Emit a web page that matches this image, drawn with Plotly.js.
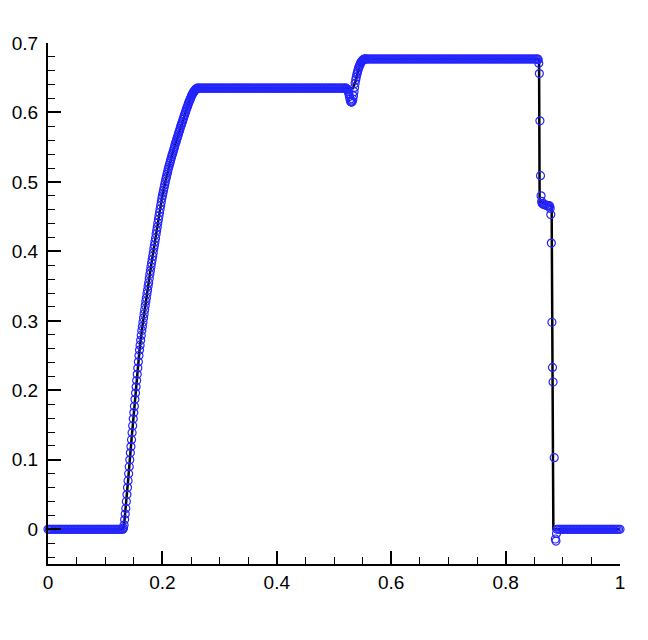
<!DOCTYPE html>
<html>
<head>
<meta charset="utf-8">
<script src="https://cdn.plot.ly/plotly-3.0.1.min.js"></script>
<style>
  html, body { margin: 0; padding: 0; background: #fff; }
  #graph { width: 648px; height: 640px; }
</style>
</head>
<body>
<div id="graph"></div>
<script>
// numerical solution (open circles)
const xLeft = [
  0, 0.0025, 0.005, 0.0075, 0.01, 0.0125, 0.015, 0.0175, 0.02, 0.0225,
  0.025, 0.0275, 0.03, 0.0325, 0.035, 0.0375, 0.04, 0.0425, 0.045, 0.0475,
  0.05, 0.0525, 0.055, 0.0575, 0.06, 0.0625, 0.065, 0.0675, 0.07, 0.0725,
  0.075, 0.0775, 0.08, 0.0825, 0.085, 0.0875, 0.09, 0.0925, 0.095, 0.0975,
  0.1, 0.1025, 0.105, 0.1075, 0.11, 0.1125, 0.115, 0.1175, 0.12, 0.1225,
  0.125, 0.1275
];
const uLeft = [
  0, 0, 0, 0, 0, 0, 0, 0, 0, 0,
  0, 0, 0, 0, 0, 0, 0, 0, 0, 0,
  0, 0, 0, 0, 0, 0, 0, 0, 0, 0,
  0, 0, 0, 0, 0, 0, 0, 0, 0, 0,
  0, 0, 0, 0, 0, 0, 0, 0, 0, 0,
  0, 0
];

const xFan = [
  0.130, 0.131, 0.132, 0.133, 0.134, 0.135, 0.136, 0.137, 0.138, 0.139,
  0.140, 0.141, 0.142, 0.143, 0.144, 0.145, 0.146, 0.147, 0.148, 0.149,
  0.150, 0.151, 0.152, 0.153, 0.154, 0.155, 0.156, 0.157, 0.158, 0.159,
  0.160, 0.161, 0.162, 0.163, 0.164, 0.165, 0.166, 0.167, 0.168, 0.169,
  0.170, 0.171, 0.172, 0.173, 0.174, 0.175, 0.176, 0.177, 0.178, 0.179,
  0.180, 0.181, 0.182, 0.183, 0.184, 0.185, 0.186, 0.187, 0.188, 0.189,
  0.190, 0.191, 0.192, 0.193, 0.194, 0.195, 0.196, 0.197, 0.198, 0.199,
  0.200, 0.201, 0.202, 0.203, 0.204, 0.205, 0.206, 0.207, 0.208, 0.209,
  0.210, 0.211, 0.212, 0.213, 0.214, 0.215, 0.216, 0.217, 0.218, 0.219,
  0.220, 0.221, 0.222, 0.223, 0.224, 0.225, 0.226, 0.227, 0.228, 0.229,
  0.230, 0.231, 0.232, 0.233, 0.234, 0.235, 0.236, 0.237, 0.238, 0.239,
  0.240, 0.241, 0.242, 0.243, 0.244, 0.245, 0.246, 0.247, 0.248, 0.249,
  0.250, 0.251, 0.252, 0.253, 0.254, 0.255, 0.256, 0.257, 0.258, 0.259,
  0.260, 0.261
];
const uFan = [
  0.000, 0.000, 0.002, 0.006, 0.014, 0.022, 0.030, 0.040, 0.050, 0.060,
  0.070, 0.080, 0.090, 0.100, 0.110, 0.119, 0.129, 0.139, 0.149, 0.159,
  0.168, 0.177, 0.187, 0.196, 0.205, 0.214, 0.223, 0.232, 0.241, 0.250,
  0.258, 0.265, 0.272, 0.279, 0.286, 0.292, 0.298, 0.304, 0.310, 0.316,
  0.322, 0.328, 0.333, 0.339, 0.344, 0.350, 0.355, 0.361, 0.367, 0.372,
  0.378, 0.383, 0.388, 0.393, 0.398, 0.404, 0.409, 0.414, 0.419, 0.425,
  0.430, 0.435, 0.441, 0.446, 0.451, 0.456, 0.461, 0.466, 0.471, 0.476,
  0.480, 0.484, 0.488, 0.492, 0.496, 0.500, 0.504, 0.507, 0.511, 0.514,
  0.518, 0.521, 0.524, 0.527, 0.530, 0.533, 0.536, 0.539, 0.541, 0.544,
  0.547, 0.550, 0.553, 0.556, 0.558, 0.561, 0.564, 0.566, 0.569, 0.572,
  0.574, 0.577, 0.580, 0.582, 0.585, 0.587, 0.590, 0.592, 0.595, 0.597,
  0.600, 0.602, 0.605, 0.607, 0.609, 0.612, 0.614, 0.616, 0.618, 0.620,
  0.622, 0.624, 0.626, 0.627, 0.629, 0.630, 0.631, 0.632, 0.633, 0.634,
  0.634, 0.635
];

const xMid = [
  0.2625, 0.265, 0.2675, 0.27, 0.2725, 0.275, 0.2775, 0.28, 0.2825, 0.285,
  0.2875, 0.29, 0.2925, 0.295, 0.2975, 0.3, 0.3025, 0.305, 0.3075, 0.31,
  0.3125, 0.315, 0.3175, 0.32, 0.3225, 0.325, 0.3275, 0.33, 0.3325, 0.335,
  0.3375, 0.34, 0.3425, 0.345, 0.3475, 0.35, 0.3525, 0.355, 0.3575, 0.36,
  0.3625, 0.365, 0.3675, 0.37, 0.3725, 0.375, 0.3775, 0.38, 0.3825, 0.385,
  0.3875, 0.39, 0.3925, 0.395, 0.3975, 0.4, 0.4025, 0.405, 0.4075, 0.41,
  0.4125, 0.415, 0.4175, 0.42, 0.4225, 0.425, 0.4275, 0.43, 0.4325, 0.435,
  0.4375, 0.44, 0.4425, 0.445, 0.4475, 0.45, 0.4525, 0.455, 0.4575, 0.46,
  0.4625, 0.465, 0.4675, 0.47, 0.4725, 0.475, 0.4775, 0.48, 0.4825, 0.485,
  0.4875, 0.49, 0.4925, 0.495, 0.4975, 0.5, 0.5025, 0.505, 0.5075, 0.51,
  0.5125, 0.515, 0.5175, 0.52
];
const uMid = [
  0.635, 0.635, 0.635, 0.635, 0.635, 0.635, 0.635, 0.635, 0.635, 0.635,
  0.635, 0.635, 0.635, 0.635, 0.635, 0.635, 0.635, 0.635, 0.635, 0.635,
  0.635, 0.635, 0.635, 0.635, 0.635, 0.635, 0.635, 0.635, 0.635, 0.635,
  0.635, 0.635, 0.635, 0.635, 0.635, 0.635, 0.635, 0.635, 0.635, 0.635,
  0.635, 0.635, 0.635, 0.635, 0.635, 0.635, 0.635, 0.635, 0.635, 0.635,
  0.635, 0.635, 0.635, 0.635, 0.635, 0.635, 0.635, 0.635, 0.635, 0.635,
  0.635, 0.635, 0.635, 0.635, 0.635, 0.635, 0.635, 0.635, 0.635, 0.635,
  0.635, 0.635, 0.635, 0.635, 0.635, 0.635, 0.635, 0.635, 0.635, 0.635,
  0.635, 0.635, 0.635, 0.635, 0.635, 0.635, 0.635, 0.635, 0.635, 0.635,
  0.635, 0.635, 0.635, 0.635, 0.635, 0.635, 0.635, 0.635, 0.635, 0.635,
  0.635, 0.635, 0.635, 0.635
];

const xDip = [
  0.521, 0.522, 0.523, 0.524, 0.525, 0.526, 0.527, 0.528, 0.529, 0.530,
  0.531, 0.532, 0.533, 0.534, 0.535, 0.536, 0.537, 0.538, 0.539, 0.540,
  0.541, 0.542, 0.543, 0.544, 0.545, 0.546, 0.547, 0.548, 0.549, 0.550,
  0.551, 0.552, 0.553, 0.554, 0.555, 0.556
];
const uDip = [
  0.635, 0.634, 0.633, 0.632, 0.630, 0.627, 0.623, 0.619, 0.616, 0.615,
  0.615, 0.616, 0.619, 0.624, 0.630, 0.636, 0.642, 0.647, 0.651, 0.655,
  0.658, 0.661, 0.664, 0.666, 0.668, 0.670, 0.672, 0.673, 0.674, 0.675,
  0.676, 0.676, 0.677, 0.677, 0.677, 0.677
];

const xTop = [
  0.5575, 0.56, 0.5625, 0.565, 0.5675, 0.57, 0.5725, 0.575, 0.5775, 0.58,
  0.5825, 0.585, 0.5875, 0.59, 0.5925, 0.595, 0.5975, 0.6, 0.6025, 0.605,
  0.6075, 0.61, 0.6125, 0.615, 0.6175, 0.62, 0.6225, 0.625, 0.6275, 0.63,
  0.6325, 0.635, 0.6375, 0.64, 0.6425, 0.645, 0.6475, 0.65, 0.6525, 0.655,
  0.6575, 0.66, 0.6625, 0.665, 0.6675, 0.67, 0.6725, 0.675, 0.6775, 0.68,
  0.6825, 0.685, 0.6875, 0.69, 0.6925, 0.695, 0.6975, 0.7, 0.7025, 0.705,
  0.7075, 0.71, 0.7125, 0.715, 0.7175, 0.72, 0.7225, 0.725, 0.7275, 0.73,
  0.7325, 0.735, 0.7375, 0.74, 0.7425, 0.745, 0.7475, 0.75, 0.7525, 0.755,
  0.7575, 0.76, 0.7625, 0.765, 0.7675, 0.77, 0.7725, 0.775, 0.7775, 0.78,
  0.7825, 0.785, 0.7875, 0.79, 0.7925, 0.795, 0.7975, 0.8, 0.8025, 0.805,
  0.8075, 0.81, 0.8125, 0.815, 0.8175, 0.82, 0.8225, 0.825, 0.8275, 0.83,
  0.8325, 0.835, 0.8375, 0.84, 0.8425, 0.845, 0.8475, 0.85, 0.8525, 0.855
];
const uTop = [
  0.677, 0.677, 0.677, 0.677, 0.677, 0.677, 0.677, 0.677, 0.677, 0.677,
  0.677, 0.677, 0.677, 0.677, 0.677, 0.677, 0.677, 0.677, 0.677, 0.677,
  0.677, 0.677, 0.677, 0.677, 0.677, 0.677, 0.677, 0.677, 0.677, 0.677,
  0.677, 0.677, 0.677, 0.677, 0.677, 0.677, 0.677, 0.677, 0.677, 0.677,
  0.677, 0.677, 0.677, 0.677, 0.677, 0.677, 0.677, 0.677, 0.677, 0.677,
  0.677, 0.677, 0.677, 0.677, 0.677, 0.677, 0.677, 0.677, 0.677, 0.677,
  0.677, 0.677, 0.677, 0.677, 0.677, 0.677, 0.677, 0.677, 0.677, 0.677,
  0.677, 0.677, 0.677, 0.677, 0.677, 0.677, 0.677, 0.677, 0.677, 0.677,
  0.677, 0.677, 0.677, 0.677, 0.677, 0.677, 0.677, 0.677, 0.677, 0.677,
  0.677, 0.677, 0.677, 0.677, 0.677, 0.677, 0.677, 0.677, 0.677, 0.677,
  0.677, 0.677, 0.677, 0.677, 0.677, 0.677, 0.677, 0.677, 0.677, 0.677,
  0.677, 0.677, 0.677, 0.677, 0.677, 0.677, 0.677, 0.677, 0.677, 0.677
];

const xShock = [
  0.856, 0.857, 0.858, 0.859, 0.860, 0.861, 0.862, 0.863, 0.864, 0.866,
  0.868, 0.870, 0.872, 0.874, 0.876, 0.877, 0.878, 0.879, 0.880, 0.881,
  0.882, 0.883, 0.885, 0.887, 0.888, 0.889, 0.890
];
const uShock = [
  0.677, 0.676, 0.671, 0.656, 0.588, 0.509, 0.480, 0.472, 0.469, 0.468,
  0.467, 0.467, 0.466, 0.466, 0.466, 0.465, 0.462, 0.453, 0.412, 0.298,
  0.233, 0.212, 0.103, -0.014, -0.017, -0.006, 0
];

const xRight = [
  0.8925, 0.895, 0.8975, 0.9, 0.9025, 0.905, 0.9075, 0.91, 0.9125, 0.915,
  0.9175, 0.92, 0.9225, 0.925, 0.9275, 0.93, 0.9325, 0.935, 0.9375, 0.94,
  0.9425, 0.945, 0.9475, 0.95, 0.9525, 0.955, 0.9575, 0.96, 0.9625, 0.965,
  0.9675, 0.97, 0.9725, 0.975, 0.9775, 0.98, 0.9825, 0.985, 0.9875, 0.99,
  0.9925, 0.995, 0.9975, 1
];
const uRight = [
  0, 0, 0, 0, 0, 0, 0, 0, 0, 0,
  0, 0, 0, 0, 0, 0, 0, 0, 0, 0,
  0, 0, 0, 0, 0, 0, 0, 0, 0, 0,
  0, 0, 0, 0, 0, 0, 0, 0, 0, 0,
  0, 0, 0, 0
];

// reference solution (black line)
const xExact = [0, 0.131, 0.133, 0.136, 0.140, 0.146, 0.150, 0.155, 0.160, 0.165,
  0.170, 0.175, 0.180, 0.187, 0.193, 0.199, 0.205, 0.210, 0.216, 0.222,
  0.228, 0.234, 0.240, 0.246, 0.252, 0.257, 0.262, 0.533, 0.537, 0.545,
  0.550, 0.8585, 0.8595, 0.8805, 0.8835, 1];
const uExact = [0, 0, 0.006, 0.030, 0.070, 0.129, 0.168, 0.214, 0.258, 0.292,
  0.322, 0.350, 0.378, 0.414, 0.446, 0.476, 0.500, 0.518, 0.536, 0.553,
  0.569, 0.585, 0.600, 0.614, 0.626, 0.632, 0.635, 0.635, 0.643, 0.668,
  0.677, 0.677, 0.472, 0.465, 0, 0];

const xNum = [].concat(xLeft, xFan, xMid, xDip, xTop, xShock, xRight);
const uNum = [].concat(uLeft, uFan, uMid, uDip, uTop, uShock, uRight);

const tickFont = { family: 'Liberation Sans, Arial, sans-serif', size: 19, color: '#000' };
const blue = '#2424ff';

Plotly.newPlot('graph', [
  { x: xExact, y: uExact, mode: 'lines', cliponaxis: false,
    line: { color: '#000', width: 2.5 } },
  { x: xNum, y: uNum, mode: 'markers', cliponaxis: false,
    marker: { symbol: 'circle-open', size: 8, color: blue, line: { width: 1.2, color: blue } } }
], {
  width: 648,
  height: 640,
  margin: { l: 48, r: 28, t: 43, b: 76 },
  paper_bgcolor: '#fff',
  plot_bgcolor: '#fff',
  showlegend: false,
  xaxis: {
    range: [0, 1], dtick: 0.2, tick0: 0,
    showgrid: false, zeroline: false,
    showline: true, linecolor: '#000', linewidth: 2,
    ticks: 'inside', ticklen: 13, tickwidth: 2, tickcolor: '#000',
    ticklabelstandoff: 0,
    minor: { dtick: 0.05, tick0: 0, ticks: 'inside', ticklen: 7, tickwidth: 1, tickcolor: '#000', showgrid: false },
    tickfont: tickFont
  },
  yaxis: {
    range: [-0.05, 0.7], dtick: 0.1, tick0: 0,
    showgrid: false, zeroline: false,
    showline: true, linecolor: '#000', linewidth: 2,
    ticks: 'inside', ticklen: 13, tickwidth: 2, tickcolor: '#000',
    ticklabelstandoff: 4,
    minor: { dtick: 0.02, tick0: 0, ticks: 'inside', ticklen: 7, tickwidth: 1, tickcolor: '#000', showgrid: false },
    tickfont: tickFont
  }
}, { displayModeBar: false, staticPlot: true });
</script>
</body>
</html>
